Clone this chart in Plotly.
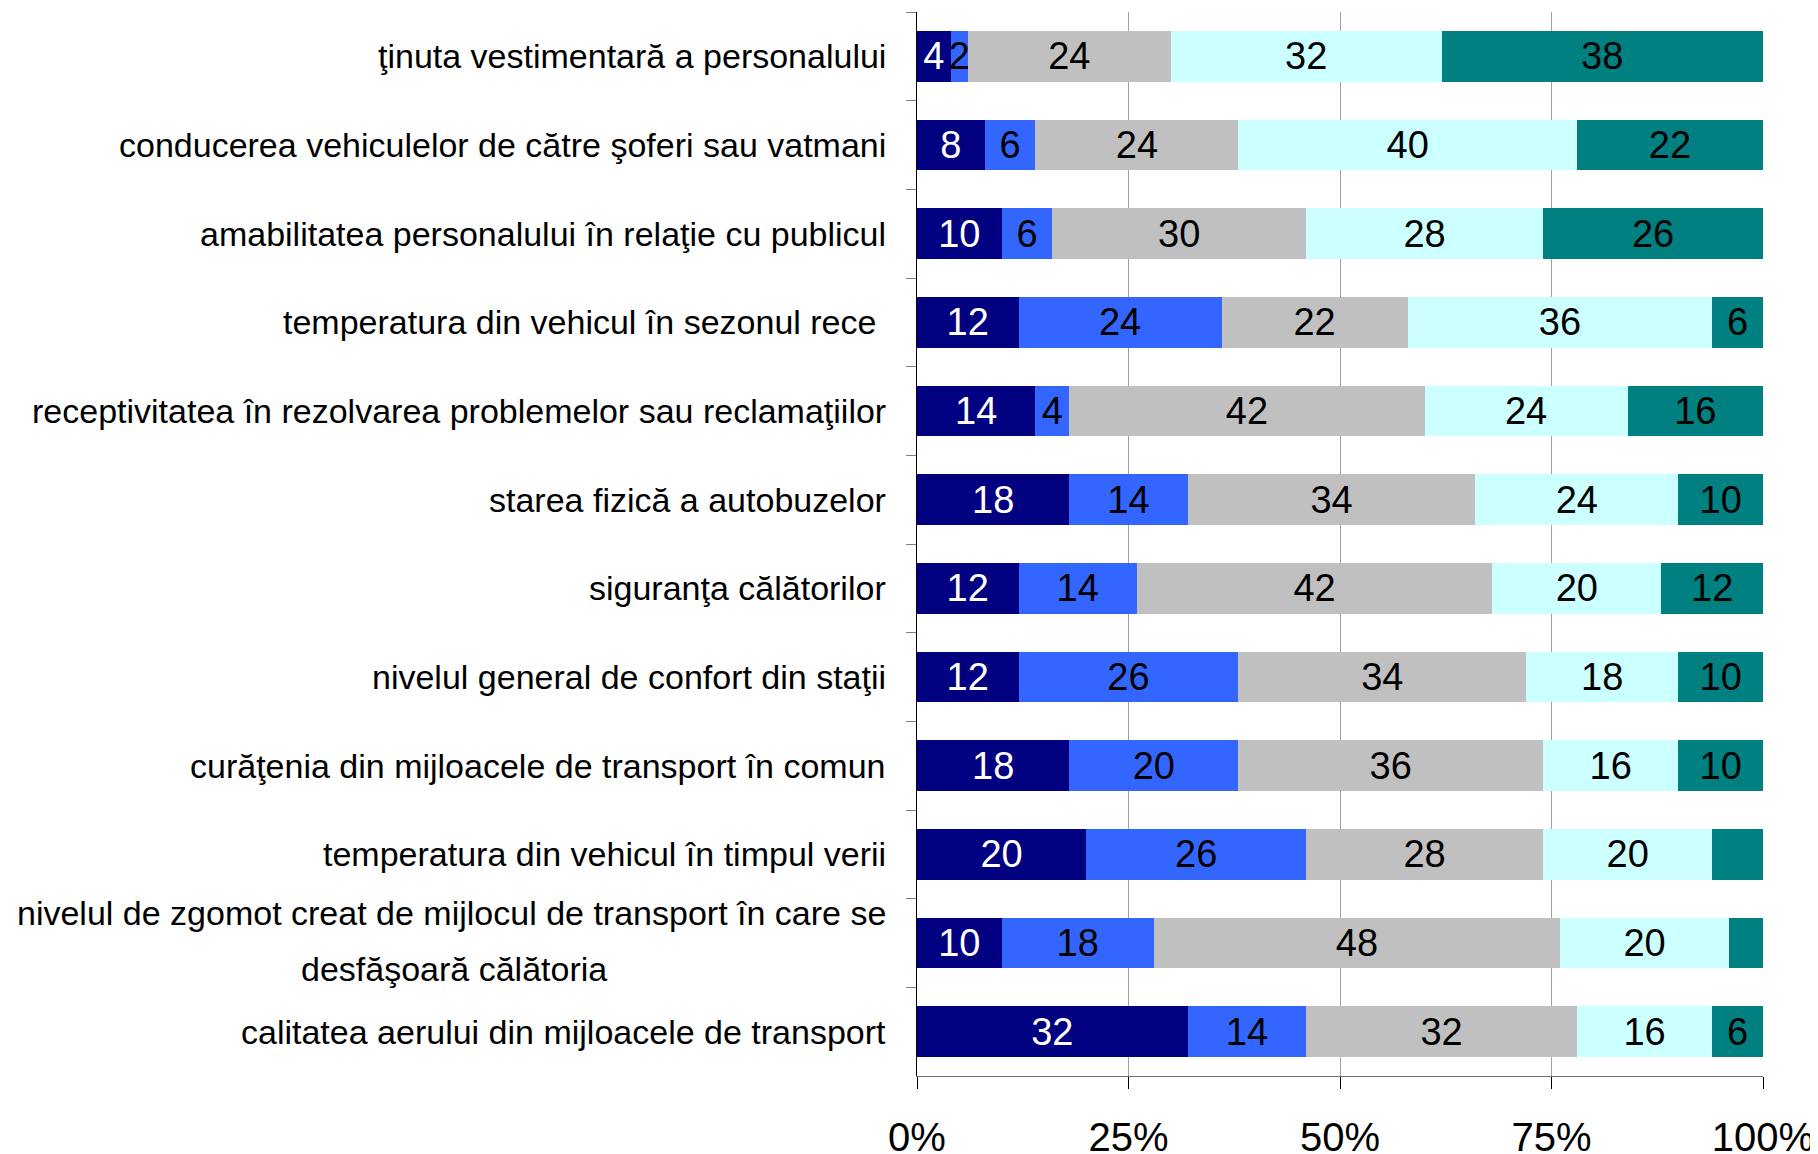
import plotly.graph_objects as go

categories = [
    "ţinuta vestimentară a personalului",
    "conducerea vehiculelor de către şoferi sau vatmani",
    "amabilitatea personalului în relaţie cu publicul",
    "temperatura din vehicul în sezonul rece ",
    "receptivitatea în rezolvarea problemelor sau reclamaţiilor",
    "starea fizică a autobuzelor",
    "siguranţa călătorilor",
    "nivelul general de confort din staţii",
    "curăţenia din mijloacele de transport în comun",
    "temperatura din vehicul în timpul verii",
    "nivelul de zgomot creat de mijlocul de transport în care se<br>desfăşoară călătoria",
    "calitatea aerului din mijloacele de transport",
]

s1 = [4, 8, 10, 12, 14, 18, 12, 12, 18, 20, 10, 32]
s2 = [2, 6, 6, 24, 4, 14, 14, 26, 20, 26, 18, 14]
s3 = [24, 24, 30, 22, 42, 34, 42, 34, 36, 28, 48, 32]
s4 = [32, 40, 28, 36, 24, 24, 20, 18, 16, 20, 20, 16]
s5 = [38, 22, 26, 6, 16, 10, 12, 10, 10, 6, 4, 6]
# the reference leaves these two small segments without a label
s5_unlabelled = [9, 10]

x_ticks = [0, 25, 50, 75, 100]
x_tick_labels = ["0%", "25%", "50%", "75%", "100%"]

series = [
    ("s1", s1, "#000080", "white"),
    ("s2", s2, "#3366FF", "black"),
    ("s3", s3, "#C0C0C0", "black"),
    ("s4", s4, "#CCFFFF", "black"),
    ("s5", s5, "#008080", "black"),
]

FONT = "Arial, Liberation Sans, sans-serif"
LABEL_GAP = -29
WRAP_CENTER = -463  # centre of the long first line of the wrapped label

fig = go.Figure()
for name, vals, color, tcol in series:
    labels = [str(v) for v in vals]
    if name == "s5":
        labels = ["" if i in s5_unlabelled else t for i, t in enumerate(labels)]
    fig.add_trace(go.Bar(
        y=categories, x=vals, name=name, orientation="h",
        marker=dict(color=color, line=dict(width=0)),
        text=labels, textposition="inside", insidetextanchor="middle",
        textfont=dict(color=tcol, size=38, family=FONT),
        constraintext="none", cliponaxis=False,
        showlegend=False,
    ))

# category labels as annotations so the wrapped one can be centred
# with the wider line spacing of the original
annotations = []
for cat in categories:
    lines = cat.split("<br>")
    common = dict(xref="paper", x=0, yref="y", y=cat, showarrow=False,
                  font=dict(size=34, family=FONT, color="black"))
    if len(lines) == 1:
        annotations.append(dict(text=cat, xanchor="right", xshift=LABEL_GAP, **common))
    else:
        annotations.append(dict(text=lines[0], xanchor="right", xshift=LABEL_GAP,
                                yshift=30, **common))
        annotations.append(dict(text=lines[1], xanchor="center", xshift=WRAP_CENTER,
                                yshift=-26, **common))

fig.update_layout(
    barmode="stack",
    bargap=0.425,
    width=1802, height=1146,
    margin=dict(l=909, r=47, t=4, b=78),
    plot_bgcolor="white", paper_bgcolor="white",
    font=dict(family=FONT, color="black"),
    uniformtext=dict(minsize=38, mode="show"),
    annotations=annotations,
    xaxis=dict(
        range=[0, 100], tickvals=x_ticks, ticktext=x_tick_labels,
        showgrid=True, gridcolor="#A0A0A0", gridwidth=1,
        showline=True, linecolor="#707070", linewidth=1,
        ticks="outside", ticklen=12, tickcolor="black",
        ticklabelstandoff=14, ticklabeloverflow="allow", automargin=False,
        tickfont=dict(size=40, family=FONT), zeroline=False,
    ),
    yaxis=dict(
        autorange="reversed",
        showline=True, linecolor="black", linewidth=1,
        ticks="outside", tickson="boundaries", ticklen=10, tickcolor="#808080",
        showticklabels=False, automargin=False,
        showgrid=False,
    ),
)

fig.write_html("out.html")
